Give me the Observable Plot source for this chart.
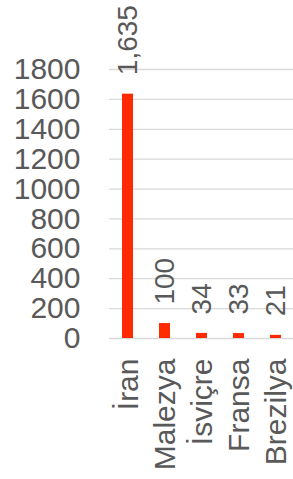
<!DOCTYPE html>
<html>
<head>
<meta charset="utf-8">
<script src="https://cdn.jsdelivr.net/npm/d3@7"></script>
<script src="https://cdn.jsdelivr.net/npm/@observablehq/plot@0.6"></script>
<style>
  html, body { margin: 0; padding: 0; background: #fff; }
  svg { display: block; }
</style>
</head>
<body>
<div id="chart"></div>
<script>
const categories = ["İran", "Malezya", "İsviçre", "Fransa", "Brezilya"];
const values = [1635, 100, 34, 33, 21];
const yTicks = [0, 200, 400, 600, 800, 1000, 1200, 1400, 1600, 1800];

const data = categories.map((c, i) => ({ country: c, value: values[i] }));
const fmt = d3.format(",");
const font = "'Liberation Sans', Arial, Helvetica, sans-serif";
const textColor = "#595959";

const chart = Plot.plot({
  width: 293,
  height: 479,
  marginTop: 69,
  marginBottom: 141,
  marginLeft: 109,
  marginRight: 0,
  style: { fontFamily: font, background: "#fff", color: textColor },
  x: { domain: categories, range: [109, 295], paddingInner: 0.69, paddingOuter: 0.345, label: null },
  y: { domain: [0, 1800], label: null },
  marks: [
    Plot.gridY(yTicks, { stroke: "#d9d9d9", strokeOpacity: 1, strokeWidth: 1.3 }),
    Plot.axisY(yTicks, { tickSize: 0, tickPadding: 29, fontSize: 30, fill: textColor, label: null, tickFormat: d => String(d) }),
    Plot.axisX({ tickSize: 0, tickPadding: 20, tickRotate: -90, fontSize: 30, fill: textColor, label: null }),
    Plot.barY(data, { x: "country", y: "value", fill: "#ff2a00" }),
    Plot.text(data, {
      x: "country", y: "value", text: d => fmt(d.value),
      rotate: -90, textAnchor: "start", dy: -19, fontSize: 28, fill: textColor
    })
  ]
});
document.getElementById("chart").appendChild(chart);
</script>
</body>
</html>
